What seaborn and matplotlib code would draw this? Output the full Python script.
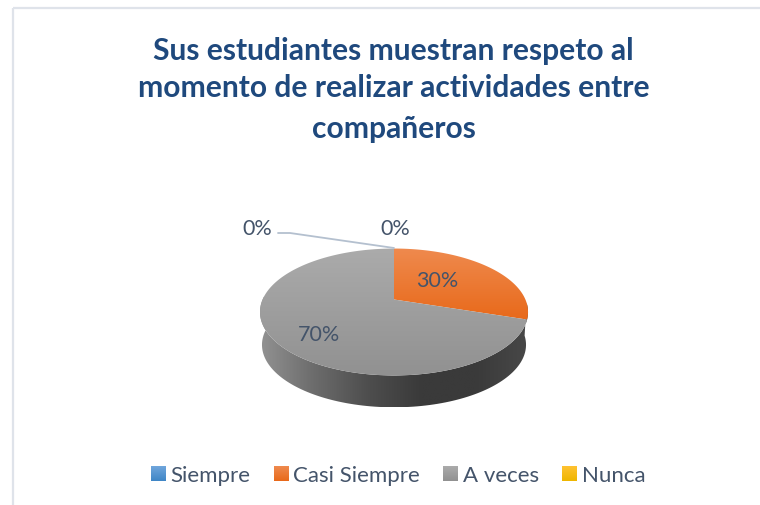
import numpy as np
import matplotlib
matplotlib.use("Agg")
import matplotlib.pyplot as plt
import seaborn as sns
from matplotlib.colors import to_rgb, LinearSegmentedColormap
from matplotlib.image import BboxImage
from matplotlib.legend_handler import HandlerPatch
from matplotlib.patches import Patch, Polygon, Rectangle
from matplotlib.transforms import Bbox, TransformedBbox

title_lines = ["Sus estudiantes muestran respeto al",
               "momento de realizar actividades entre",
               "compañeros"]
categories = ["Siempre", "Casi Siempre", "A veces", "Nunca"]
values = [0, 30, 70, 0]
top_colors = ["#70a6dc", "#ef8a4e", "#ababab", "#ffc231"]
bottom_colors = ["#3f86c6", "#e8691a", "#919191", "#eeb600"]
wall_colors = ["#929292", "#6c6c6c", "#4e4e4e", "#3a3a3a", "#3a3a3a", "#484848"]

TEXT = "#44546a"
TITLE = "#1f497d"

sns.set_theme(style="white")
plt.rcParams["font.family"] = ["Lato", "DejaVu Sans"]


def project(theta, scale=1.0, drop=0.0):
    # tilted pie: unit circle through a perspective, apex at the pie centre
    x, y = np.cos(np.radians(theta)), np.sin(np.radians(theta))
    w = 1 + 0.197 * y
    return 394 + scale * 131.4 * x / w, 300.5 - scale * 61 * y / w + drop


def gradient(ax, verts, colors, horizontal=False):
    cmap = LinearSegmentedColormap.from_list("g", [to_rgb(c) for c in colors])
    ramp = np.linspace(0, 1, 256)
    ramp = ramp[None, :] if horizontal else ramp[:, None]
    x0, x1 = verts[:, 0].min(), verts[:, 0].max()
    y0, y1 = verts[:, 1].min(), verts[:, 1].max()
    im = ax.imshow(ramp, cmap=cmap, vmin=0, vmax=1, aspect="auto",
                   extent=(x0, x1, y1, y0), interpolation="bilinear", zorder=2)
    clip = Polygon(verts, closed=True, transform=ax.transData)
    im.set_clip_path(clip)


class GradientHandler(HandlerPatch):
    def create_artists(self, legend, orig, xd, yd, width, height, fontsize, trans):
        side = 15 * 0.72
        box = Bbox.from_bounds(-xd, -yd + (height - side) / 2, side, side)
        cmap = LinearSegmentedColormap.from_list(
            "h", [to_rgb(orig.top), to_rgb(orig.bottom)])
        im = BboxImage(TransformedBbox(box, trans), cmap=cmap, norm=plt.Normalize(0, 1))
        im.set_data(np.linspace(0, 1, 64)[:, None])
        return [im]


fig = plt.figure(figsize=(7.6, 5.06), dpi=100)
ax = fig.add_axes([0, 0, 1, 1])

wedges, _ = ax.pie(values, startangle=90, counterclock=False, colors=top_colors)

# side wall of the disc, front half only
arc = np.linspace(180, 360, 120)
tx, ty = project(arc - 3)
bx, by = project(arc - 3, scale=0.985, drop=33)
wall = np.vstack([np.column_stack([tx, ty]), np.column_stack([bx, by])[::-1]])
gradient(ax, wall, wall_colors, horizontal=True)

# top face, slices come from the pie angles
for w, top, bottom in zip(wedges, top_colors, bottom_colors):
    w.set_visible(False)
    if w.theta2 - w.theta1 <= 0:
        continue
    x, y = project(np.linspace(w.theta1, w.theta2, 150))
    verts = np.vstack([[394, 300.5], np.column_stack([x, y])])
    gradient(ax, verts, [top, bottom])

ax.set_aspect("auto")
ax.set_xlim(0, 760)
ax.set_ylim(506, 0)
ax.axis("off")

ax.add_patch(Rectangle((13, 9), 800, 600, fill=False, ec="#dfe3ea", lw=1.6, zorder=1))

for line, ypos in zip(title_lines, [51, 88, 129]):
    ax.text(393.5, ypos, line, color=TITLE, fontsize=21.6, fontweight="bold",
            ha="center", va="center")

# data labels
ax.text(437, 281, f"{values[1]}%", color=TEXT, fontsize=15.5, ha="center", va="center", zorder=5)
ax.text(319, 335, f"{values[2]}%", color=TEXT, fontsize=15.5, ha="center", va="center", zorder=5)
ax.text(395, 229, f"{values[3]}%", color=TEXT, fontsize=15.5, ha="center", va="center", zorder=5)
ax.text(257, 229, f"{values[0]}%", color=TEXT, fontsize=15.5, ha="center", va="center", zorder=5)
ax.plot([278, 290, 394], [234, 234, 249], color="#b4c0cf", lw=1.3, zorder=3)

handles = []
for name, top, bottom in zip(categories, top_colors, bottom_colors):
    h = Patch(label=name)
    h.top, h.bottom = top, bottom
    handles.append(h)
ax.legend(handles=handles, loc="center", bbox_to_anchor=(398, 476),
          bbox_transform=ax.transData, ncol=4, frameon=False, fontsize=16,
          labelcolor=TEXT, handlelength=0.68, handleheight=0.7, handletextpad=0.2,
          columnspacing=1.05, borderpad=0, borderaxespad=0,
          handler_map={Patch: GradientHandler()})

fig.savefig("out.png", dpi=100, facecolor="white")
